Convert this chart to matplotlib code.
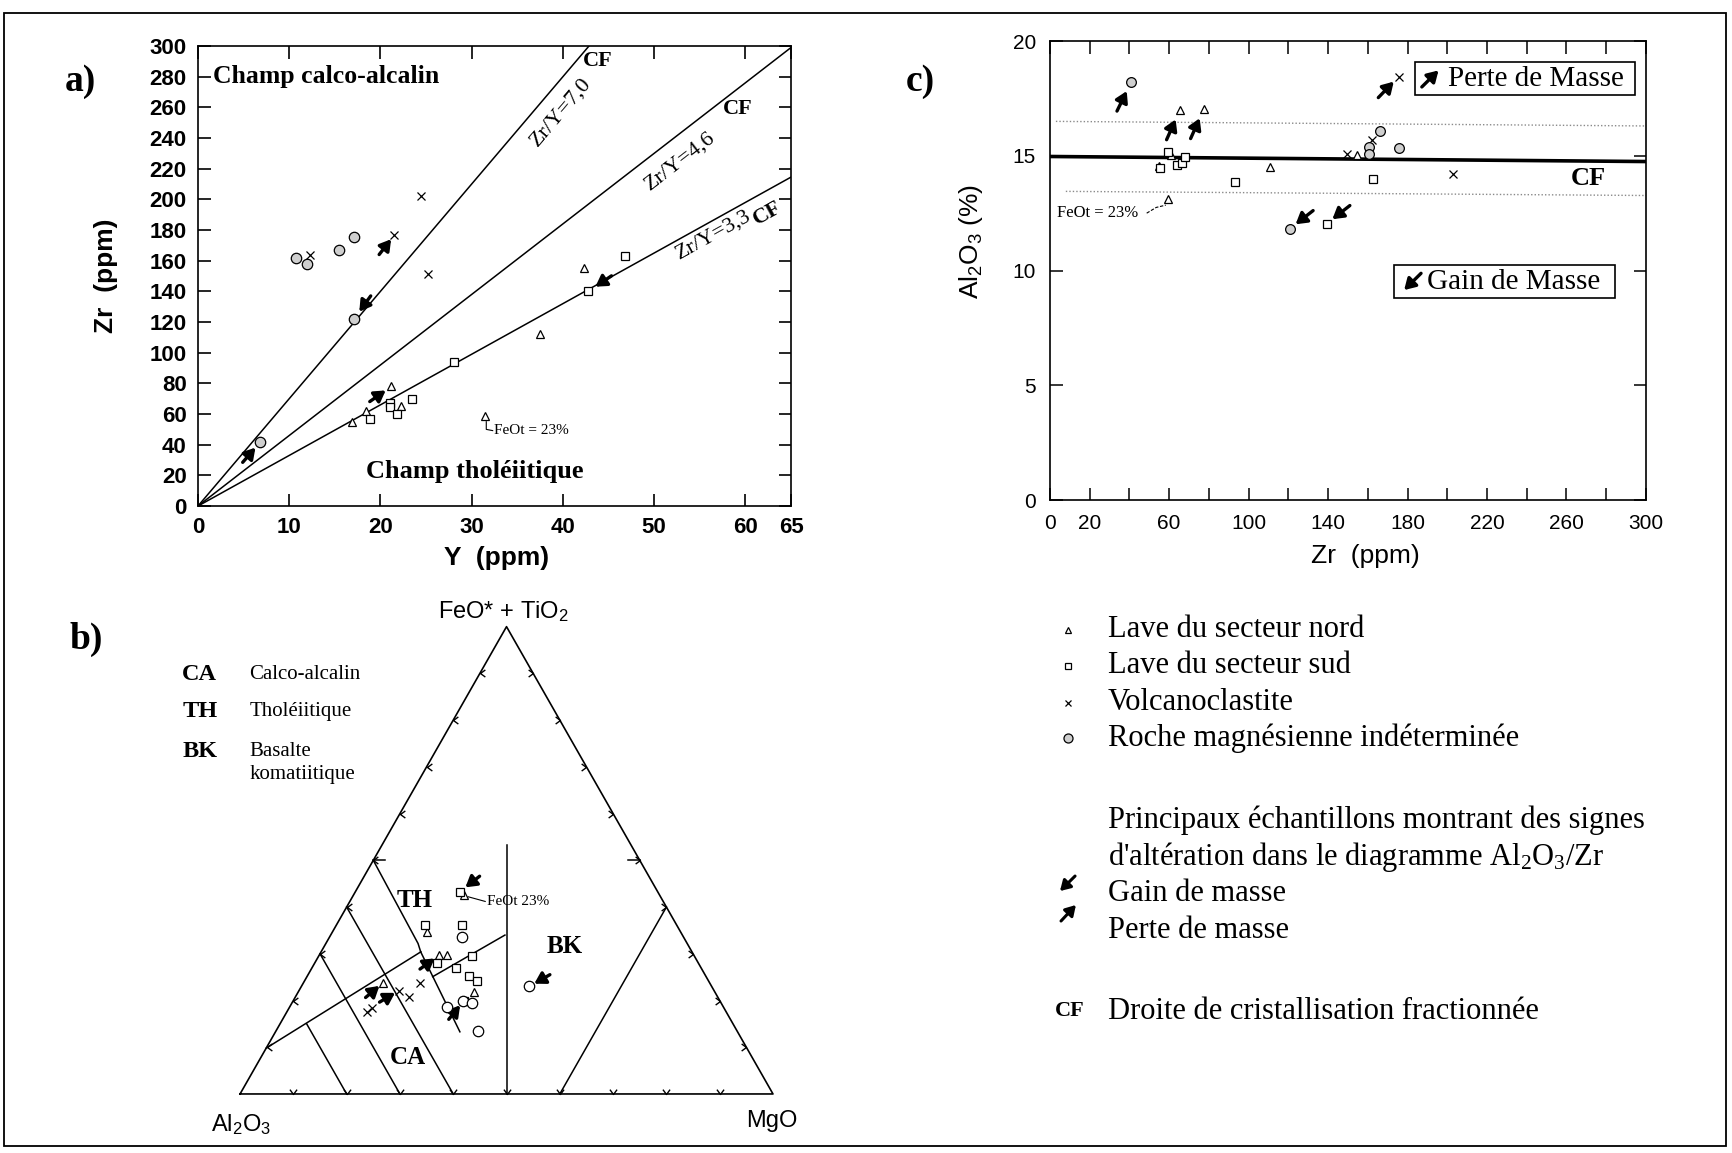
import numpy as np
import matplotlib
matplotlib.use('Agg')
import matplotlib.pyplot as plt
from matplotlib.path import Path
from matplotlib.patches import Rectangle

plt.rcParams['font.family'] = ['Liberation Sans', 'DejaVu Sans']
plt.rcParams['mathtext.fontset'] = 'custom'
plt.rcParams['mathtext.rm'] = 'Liberation Sans'
plt.rcParams['mathtext.default'] = 'regular'
SERIF = ['Liberation Serif', 'DejaVu Serif']

# ---- a) Zr vs Y (ppm)
nord_y = [21.2, 16.9, 18.4, 22.2, 42.3, 37.5, 31.5]
nord_zr = [78, 55, 62, 65.5, 155, 112, 59]
sud_y = [28.1, 21.0, 21.0, 18.9, 21.8, 23.5, 46.8, 42.8]
sud_zr = [94, 67, 64.5, 57, 59.8, 69.5, 163, 140]
volc_y = [12.3, 24.5, 21.5, 25.2]
volc_zr = [164, 202, 176.5, 151.5]
roche_y = [10.7, 11.9, 15.5, 17.1, 17.1, 6.8]
roche_zr = [162, 158, 167, 175.5, 122, 41.5]
ratios = [7.0, 4.6, 3.3]
# arrows: target point, pointing direction (deg), gap to target (pt)
arrows_a = [(17.1, 122, 234, 6.5), (21.5, 176.5, 52, 3.5),
            (21.2, 78, 35, 5), (6.8, 41.5, 49, 5), (42.8, 140, 214, 6)]

# ---- c) Al2O3 (%) vs Zr (ppm)
c_nord_zr = [65.4, 77.5, 60.9, 55.0, 111, 154.8, 59.5]
c_nord_al = [17.0, 17.05, 15.05, 14.55, 14.5, 15.03, 13.1]
c_sud_zr = [59.5, 55.5, 63.8, 66.3, 68.0, 93.1, 162.7, 139.4]
c_sud_al = [15.15, 14.45, 14.62, 14.68, 14.95, 13.85, 14.0, 12.05]
c_volc_zr = [149.5, 162.3, 175.5, 203]
c_volc_al = [15.07, 15.68, 18.45, 14.2]
c_roche_zr = [40.8, 120.9, 160.4, 160.4, 166.1, 175.7]
c_roche_al = [18.2, 11.83, 15.4, 15.1, 16.1, 15.32]
cf_c = [14.97, 14.75]
band_hi = [16.5, 16.3]
band_lo = [13.45, 13.27]
arrows_c = [(40.8, 18.2, 64, 7), (65.4, 17.0, 66, 7.5), (77.5, 17.05, 66, 7.5),
            (175.5, 18.45, 46, 5), (120.9, 11.83, 218, 5), (139.4, 12.05, 218, 5)]

# ---- b) ternary Al2O3 - (FeO*+TiO2) - MgO, percent
t_nord = [(36.7, 42.6, 20.7), (47.7, 34.6, 17.7), (47.8, 29.7, 22.5),
          (46.3, 29.7, 24.0), (61.4, 23.7, 14.9), (45.1, 21.9, 33.0)]
t_sud = [(37.1, 43.3, 19.6), (47.2, 36.2, 16.6), (40.2, 36.2, 23.6),
         (49.1, 28.0, 22.9), (41.6, 29.6, 28.8), (45.9, 27.0, 27.1),
         (44.3, 25.3, 30.4), (43.5, 24.2, 32.3), (48.1, 19.9, 32.0)]
t_volc = [(67.4, 17.6, 15.0), (66.1, 18.3, 15.6), (59.2, 22.1, 18.7),
          (57.9, 20.7, 21.4), (54.3, 23.7, 22.0)]
t_roche = [(41.6, 33.5, 24.9), (34.2, 23.0, 42.8), (51.9, 18.7, 29.5),
           (48.3, 19.8, 31.9), (46.8, 19.5, 33.8), (48.6, 13.5, 37.9)]
t_fields = [
    [(50, 50, 0), (50.5, 32.2, 17.3), (50.9, 30.4, 18.7)],
    [(90.2, 9.8, 0), (52.8, 29.4, 17.8), (50.9, 30.4, 18.7)],
    [(50.9, 30.4, 18.7), (52.1, 13.3, 34.6)],
    [(51.3, 25.1, 23.6), (33.3, 34.0, 32.7)],
    [(23.35, 53.3, 23.35), (50, 0, 50)],
    [(60, 40, 0), (60, 0, 40)],
    [(70, 30, 0), (70, 0, 30)],
    [(80, 15, 5), (80, 0, 20)],
    [(0, 40, 60), (40, 0, 60)],
]
arrows_t = [(t_sud[0], 218, 5), (t_nord[2], 36, 4), (t_nord[4], 40, 3),
            (t_volc[2], 31, 3), (t_roche[1], 210, 4), (t_sud[8], 51, 4)]

ARROW = '-|>,head_length=0.5,head_width=0.3'


def tern_xy(pts):
    p = np.asarray(pts, dtype=float)
    s = p.sum(axis=1)
    fe = p[:, 1] / s
    mg = p[:, 2] / s
    return mg + fe / 2, fe


def mass_arrow(ax, x, y, angle, gap, length=14, lw=2.4):
    a = np.radians(angle)
    d = gap + length
    ax.annotate('', xy=(x, y), xytext=(-d * np.cos(a), -d * np.sin(a)),
                textcoords='offset points', annotation_clip=False,
                arrowprops=dict(arrowstyle=ARROW, color='k', lw=lw,
                                mutation_scale=13, shrinkA=0, shrinkB=gap))


def draw_points(ax, x, y, kind, ms=6.5, circle_fc='#cfcfcf'):
    style = {'nord': dict(marker='^', ms=ms - 0.5, mfc='white'),
             'sud': dict(marker='s', ms=ms - 0.5, mfc='white'),
             'volc': dict(marker='x', ms=ms - 0.5),
             'roche': dict(marker='o', ms=ms + 1, mfc=circle_fc)}[kind]
    ax.plot(x, y, ls='none', mec='k', mew=0.9, color='k', clip_on=False,
            zorder=4, **style)


fig = plt.figure(figsize=(17.32, 11.53), dpi=100)
bg = fig.add_axes([0, 0, 1, 1])
bg.set_xlim(0, 1)
bg.set_ylim(0, 1)
bg.axis('off')
bg.add_patch(Rectangle((0.0023, 0.0065), 0.994, 0.982, fill=False, lw=1.3))

# ---------------- a)
ax = fig.add_axes([0.1143, 0.5611, 0.3424, 0.3990])
ax.set_xlim(0, 65)
ax.set_ylim(0, 300)
xx = np.array([0, 65])
for r in ratios:
    ax.plot(xx, r * xx, color='k', lw=1.1, clip_on=True)
draw_points(ax, nord_y, nord_zr, 'nord')
draw_points(ax, sud_y, sud_zr, 'sud')
draw_points(ax, volc_y, volc_zr, 'volc')
draw_points(ax, roche_y, roche_zr, 'roche')
for x, y, ang, g in arrows_a:
    mass_arrow(ax, x, y, ang, g)

ax.set_xticks([0, 10, 20, 30, 40, 50, 60, 65])
ax.set_yticks(np.arange(0, 301, 20))
ax.tick_params(direction='in', top=True, right=True, length=9, width=1.2,
               labelsize=16, pad=8)
for lbl in ax.get_xticklabels() + ax.get_yticklabels():
    lbl.set_fontweight('bold')
for s in ax.spines.values():
    s.set_linewidth(1.2)
ax.set_xlabel('Y  (ppm)', fontsize=19, fontweight='bold')
ax.set_ylabel('Zr  (ppm)', fontsize=19, fontweight='bold')
ax.xaxis.set_label_coords(0.504, -0.086)
ax.yaxis.set_label_coords(-0.135, 0.5)

ax.text(1.6, 280, 'Champ calco-alcalin', family=SERIF, fontsize=18.5,
        fontweight='bold', va='center')
ax.text(18.4, 22.4, 'Champ tholéiitique', family=SERIF, fontsize=19,
        fontweight='bold', va='center')
rot = dict(rotation_mode='anchor', transform_rotates_text=True,
           ha='center', va='center', family=SERIF, fontsize=16)
ax.text(39.8, 257, 'Zr/Y=7,0', rotation=np.degrees(np.arctan(7.0)), **rot)
ax.text(52.8, 225, 'Zr/Y=4,6', rotation=np.degrees(np.arctan(4.6)), **rot)
ax.text(56.5, 177, 'Zr/Y=3,3', rotation=np.degrees(np.arctan(3.3)), **rot)
cf = dict(family=SERIF, fontsize=16, fontweight='bold', ha='center', va='center')
ax.text(43.8, 290, 'CF', **cf)
ax.text(59.2, 259, 'CF', **cf)
ax.text(62.4, 191, 'CF', rotation=np.degrees(np.arctan(3.3)),
        rotation_mode='anchor', transform_rotates_text=True, **cf)
ax.plot([31.6, 31.6, 32.3], [55, 50, 49.2], color='k', lw=0.8)
ax.text(32.5, 49.5, 'FeOt = 23%', family=SERIF, fontsize=11, va='center')

# ---------------- c)
cx = fig.add_axes([0.6062, 0.5663, 0.3441, 0.3981])
cx.set_xlim(0, 300)
cx.set_ylim(0, 20)
zr = np.array([0, 300])
cx.plot(zr, cf_c, color='k', lw=2.6)
cx.plot([3, 300], band_hi, color='#8a8a8a', lw=1.0, ls=(0, (1, 1.5)))
cx.plot([8, 300], band_lo, color='#8a8a8a', lw=1.0, ls=(0, (1, 1.5)))
draw_points(cx, c_nord_zr, c_nord_al, 'nord', ms=6)
draw_points(cx, c_sud_zr, c_sud_al, 'sud', ms=6)
draw_points(cx, c_volc_zr, c_volc_al, 'volc', ms=6)
draw_points(cx, c_roche_zr, c_roche_al, 'roche', ms=6)
for x, y, ang, g in arrows_c:
    mass_arrow(cx, x, y, ang, g, length=16)

xt = np.arange(0, 301, 20)
shown = {0, 20, 60, 100, 140, 180, 220, 260, 300}
cx.set_xticks(xt)
cx.set_xticklabels([str(v) if v in shown else '' for v in xt])
cx.set_yticks([0, 5, 10, 15, 20])
cx.tick_params(direction='in', top=True, right=True, length=9, width=1.1,
               labelsize=15, pad=10)
for s in cx.spines.values():
    s.set_linewidth(1.2)
cx.set_xlabel('Zr  (ppm)', fontsize=19)
cx.set_ylabel('Al$_2$O$_3$ (%)', fontsize=19)
cx.xaxis.set_label_coords(0.529, -0.095)
cx.yaxis.set_label_coords(-0.109, 0.564)

cx.add_patch(Rectangle((183.7, 17.65), 110.8, 1.43, fill=False, lw=1.2))
cx.add_patch(Rectangle((173.0, 8.8), 111.3, 1.44, fill=False, lw=1.2))
box_txt = dict(family=SERIF, fontsize=21, va='center', ha='left')
cx.text(200.5, 18.35, 'Perte de Masse', **box_txt)
cx.text(190.0, 9.5, 'Gain de Masse', **box_txt)
box_arr = dict(arrowstyle=ARROW, color='k', lw=2.4, mutation_scale=13,
               shrinkA=0, shrinkB=0)
cx.annotate('', xy=(195.6, 18.72), xytext=(187.2, 18.0), arrowprops=box_arr)
cx.annotate('', xy=(178.3, 9.15), xytext=(186.8, 9.88), arrowprops=box_arr)
cx.text(271, 14.0, 'CF', family=SERIF, fontsize=19, fontweight='bold',
        ha='center', va='center')
cx.text(3.5, 12.5, 'FeOt = 23%', family=SERIF, fontsize=12, va='center')
cx.plot([48.7, 53.5, 58.3], [12.5, 12.75, 12.85], color='k', lw=0.8,
        ls=(0, (3, 1.5)))

# ---------------- b) ternary
tx = fig.add_axes([0.1386, 0.0512, 0.3077, 0.4053])
tx.set_xlim(0, 1)
tx.set_ylim(0, 1)
tx.axis('off')
tx.plot([0, 0.5, 1, 0], [0, 1, 0, 0], color='k', lw=1.2, clip_on=False)
for line in t_fields:
    lx, ly = tern_xy(line)
    tx.plot(lx, ly, color='k', lw=1.1, clip_on=False)


def chevron(angle):
    v = np.array([(-0.55, 0.75), (0.0, 0.0), (0.55, 0.75)])
    a = np.radians(angle)
    rotm = np.array([[np.cos(a), -np.sin(a)], [np.sin(a), np.cos(a)]])
    return Path(v @ rotm.T, [Path.MOVETO, Path.LINETO, Path.LINETO])


f = np.arange(1, 10) / 10
tick_kw = dict(ls='none', ms=7, mfc='none', mec='k', mew=1.0, clip_on=False)
tx.plot(f / 2, f, marker=chevron(-90), **tick_kw)
tx.plot(1 - f / 2, f, marker=chevron(90), **tick_kw)
tx.plot(f, np.zeros_like(f), marker=chevron(0), **tick_kw)
tx.plot([0.25, 0.272], [0.5, 0.5], color='k', lw=1.1)
tx.plot([0.75, 0.728], [0.5, 0.5], color='k', lw=1.1)

for pts, kind in [(t_nord, 'nord'), (t_sud, 'sud'), (t_volc, 'volc'),
                  (t_roche, 'roche')]:
    px, py = tern_xy(pts)
    draw_points(tx, px, py, kind, ms=6.5, circle_fc='white')
for target, ang, g in arrows_t:
    px, py = tern_xy([target])
    mass_arrow(tx, px[0], py[0], ang, g, length=13)

ax_lbl = dict(family=SERIF, fontsize=18, fontweight='bold', ha='center', va='center')
tx.text(0.328, 0.415, 'TH', **ax_lbl)
tx.text(0.61, 0.315, 'BK', **ax_lbl)
tx.text(0.315, 0.077, 'CA', **ax_lbl)
fx, fy = tern_xy([t_nord[0]])
tx.plot([fx[0] + 0.008, 0.46], [fy[0] - 0.004, 0.412], color='k', lw=0.8)
tx.text(0.463, 0.411, 'FeOt 23%', family=SERIF, fontsize=11, va='center')

# corner labels of the ternary
bg.text(0.2908, 0.470, 'FeO* + TiO$_2$', fontsize=17, ha='center', va='center')
bg.text(0.139, 0.0247, 'Al$_2$O$_3$', fontsize=17, ha='center', va='center')
bg.text(0.4457, 0.0278, 'MgO', fontsize=17, ha='center', va='center')

# field abbreviations
for y, ab, name in [(0.4146, 'CA', 'Calco-alcalin'), (0.383, 'TH', 'Tholéiitique'),
                    (0.3486, 'BK', 'Basalte')]:
    bg.text(0.1052, y, ab, family=SERIF, fontsize=17.5, fontweight='bold', va='center')
    bg.text(0.1441, y, name, family=SERIF, fontsize=15, va='center')
bg.text(0.1441, 0.3284, 'komatiitique', family=SERIF, fontsize=15, va='center')

# panel letters
for x, y, s in [(0.0465, 0.9291, 'a)'), (0.05, 0.4453, 'b)'), (0.5312, 0.9291, 'c)')]:
    bg.text(x, y, s, family=SERIF, fontsize=27, fontweight='bold',
            ha='center', va='center')

# ---------------- legend
leg_x, txt_x = 0.6166, 0.6397
leg_rows = [(0.4539, 'nord', 'Lave du secteur nord'),
            (0.4224, 'sud', 'Lave du secteur sud'),
            (0.3907, 'volc', 'Volcanoclastite'),
            (0.3600, 'roche', 'Roche magnésienne indéterminée')]
for y, kind, label in leg_rows:
    draw_points(bg, [leg_x], [y], kind, ms=5.5)
    bg.text(txt_x, y, label, family=SERIF, fontsize=22, va='center')
leg_txt = dict(family=SERIF, fontsize=22, va='center', math_fontfamily='stix')
bg.text(txt_x, 0.2882, 'Principaux échantillons montrant des signes', **leg_txt)
bg.text(txt_x, 0.2565, "d'altération dans le diagramme Al$_2$O$_3$/Zr", **leg_txt)
bg.text(txt_x, 0.2250, 'Gain de masse', **leg_txt)
bg.text(txt_x, 0.1934, 'Perte de masse', **leg_txt)
bg.text(txt_x, 0.1225, 'Droite de cristallisation fractionnée', **leg_txt)
bg.text(0.609, 0.1235, 'CF', family=SERIF, fontsize=16, fontweight='bold', va='center')
arr = dict(arrowstyle=ARROW, color='k', lw=2.2, mutation_scale=12, shrinkA=0, shrinkB=0)
bg.annotate('', xy=(0.6120, 0.2272), xytext=(0.6207, 0.2402), arrowprops=arr)
bg.annotate('', xy=(0.6212, 0.2151), xytext=(0.6126, 0.2012), arrowprops=arr)

fig.savefig('out.png', dpi=100)
